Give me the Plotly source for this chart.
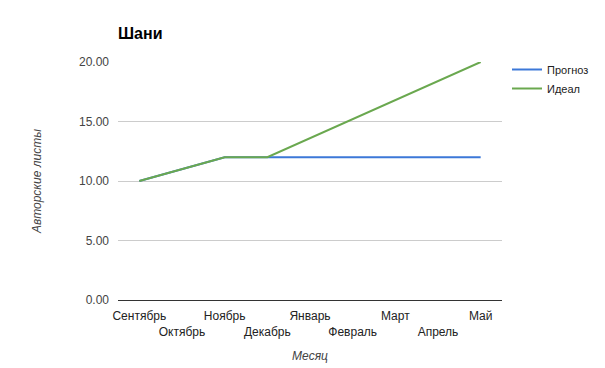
import plotly.graph_objects as go

months = ["Сентябрь", "Октябрь", "Ноябрь", "Декабрь", "Январь",
          "Февраль", "Март", "Апрель", "Май"]
forecast = [10, 11, 12, 12, 12, 12, 12, 12, 12]
ideal = [10, 11, 12, 12, 13.6, 15.2, 16.8, 18.4, 20]
y_ticks = [0, 5, 10, 15, 20]

tick_text = [m if i % 2 == 0 else "<br>" + m for i, m in enumerate(months)]

fig = go.Figure()
fig.add_trace(go.Scatter(x=months, y=forecast, mode="lines", name="Прогноз",
                         line=dict(color="#3c78d8", width=2)))
fig.add_trace(go.Scatter(x=months, y=ideal, mode="lines", name="Идеал",
                         line=dict(color="#6aa84f", width=2)))

fig.update_layout(
    width=605, height=368,
    margin=dict(l=118, r=103, t=62, b=68, autoexpand=False),
    paper_bgcolor="white", plot_bgcolor="white",
    font=dict(family="Arial, Liberation Sans, sans-serif", size=12, color="#222"),
    title=dict(text="<b>Шани</b>", x=118/605, xanchor="left", y=1-33/368, yanchor="middle",
               font=dict(size=16, color="#000")),
    showlegend=True,
    legend=dict(xref="container", yref="container", x=507/605, xanchor="left",
                y=1-55/368, yanchor="top",
                font=dict(size=11, color="#222"), tracegroupgap=0, itemwidth=30,
                bgcolor="rgba(0,0,0,0)"),
    xaxis=dict(
        type="category", range=[-0.5, 8.5],
        tickmode="array", tickvals=months, ticktext=tick_text, tickangle=0,
        automargin=False, ticklabelstandoff=7,
        showgrid=False, zeroline=False, showline=False, ticks="",
        tickfont=dict(size=12, color="#222"),
        title=dict(text="<i>Месяц</i>", font=dict(size=12, color="#444"), standoff=14),
    ),
    yaxis=dict(
        range=[0, 20], tickvals=y_ticks, ticktext=[f"{v:.2f}" for v in y_ticks],
        showgrid=True, gridcolor="#cccccc", gridwidth=1,
        zeroline=True, zerolinecolor="#333333", zerolinewidth=1,
        showline=False, ticks="", ticklabelstandoff=8, automargin=False,
        tickfont=dict(size=12, color="#444"),
        title=dict(text="<i>Авторские листы</i>", font=dict(size=12, color="#444"), standoff=34),
    ),
)

fig.write_html("out.html")
